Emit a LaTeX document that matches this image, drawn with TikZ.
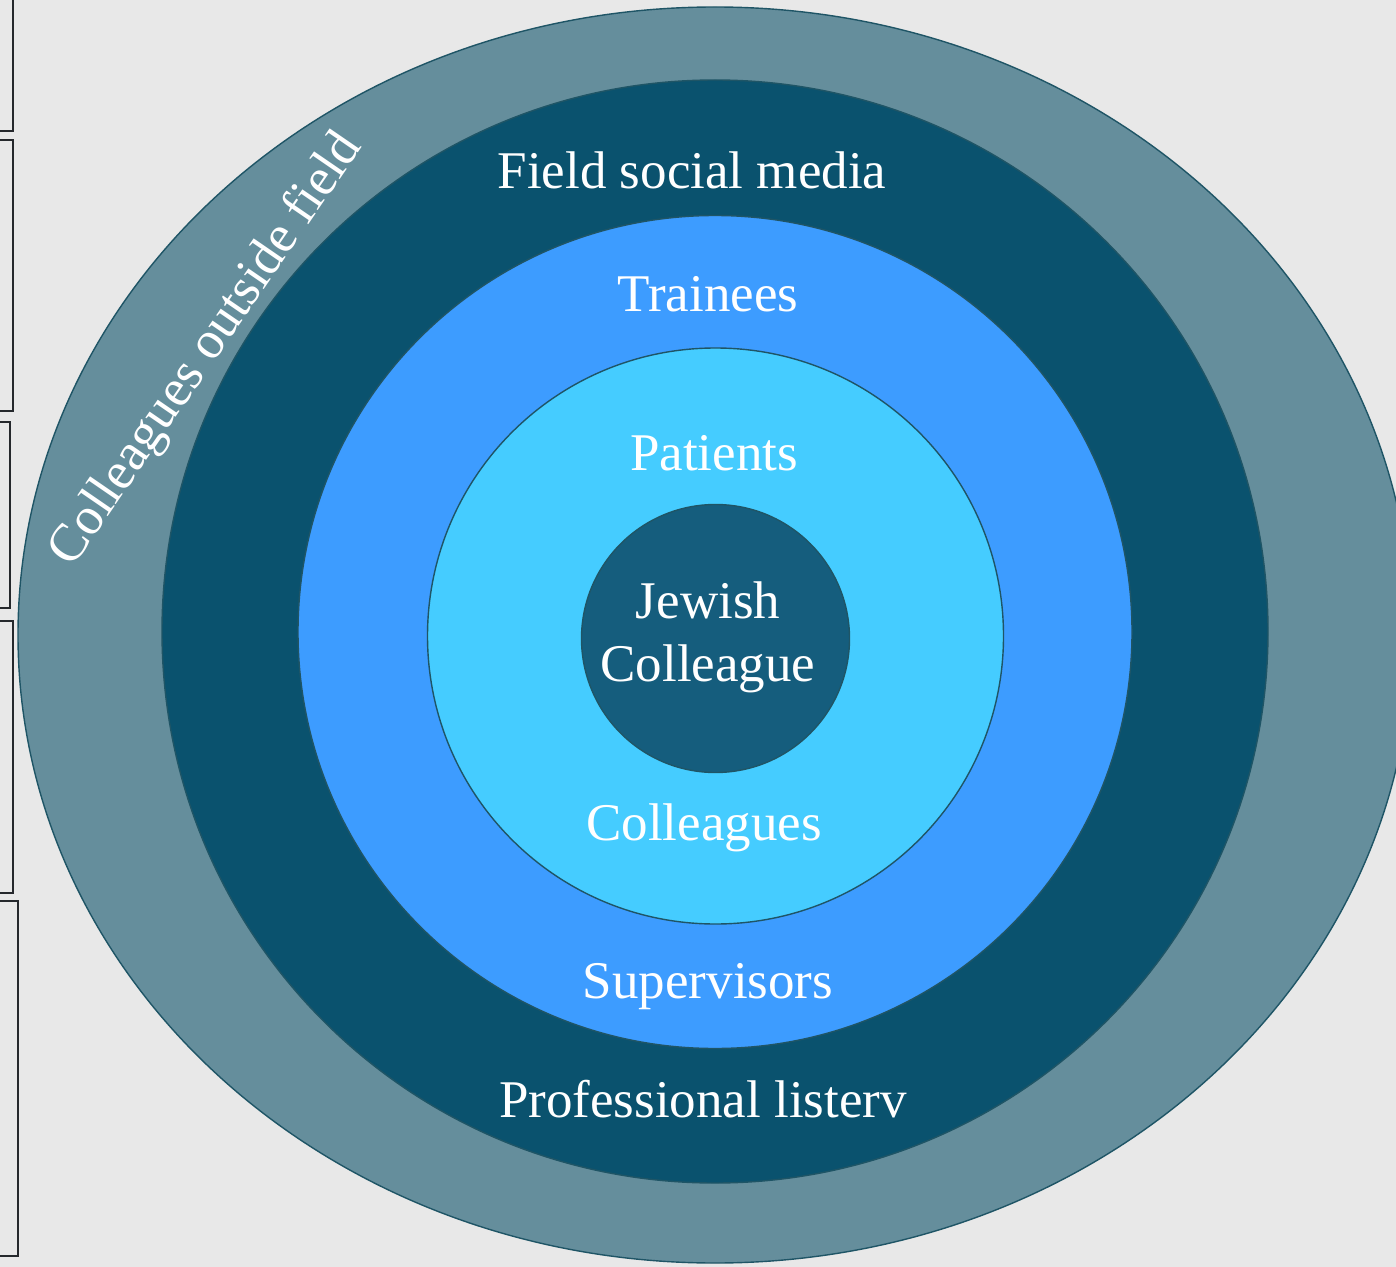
\documentclass[tikz,border=0pt]{standalone}
\usepackage{fontspec}
\setmainfont{Liberation Serif}
\definecolor{bgc}{HTML}{E8E8E8}
\definecolor{ringA}{HTML}{658E9C}
\definecolor{ringB}{HTML}{0A526E}
\definecolor{ringC}{HTML}{3D9CFF}
\definecolor{ringD}{HTML}{45CCFF}
\definecolor{ringE}{HTML}{155D7D}
\definecolor{edgec}{HTML}{1F5566}
\definecolor{boxc}{HTML}{25282C}
\begin{document}
\begin{tikzpicture}[x=0.5pt,y=-0.5pt,
  ring/.style={draw=edgec,line width=0.7pt},
  lbl/.style={text=white,inner sep=0pt,font=\fontsize{26.5}{31.5}\selectfont},
  sidebox/.style={draw=boxc,line width=1pt}]
\fill[bgc] (0,0) rectangle (1396,1267);
\useasboundingbox (0,0) rectangle (1396,1267);
% left boxes
\draw[sidebox] (-20,-20) rectangle (13,131);
\draw[sidebox] (-20,140) rectangle (13,411);
\draw[sidebox] (-20,422) rectangle (9.5,608);
\draw[sidebox] (-20,621) rectangle (12.5,893);
\draw[sidebox] (-20,901) rectangle (17.5,1256);
% rings
\draw[ring,fill=ringA] (715,635) ellipse [x radius=697, y radius=628];
\draw[ring,fill=ringB] (715,631.5) ellipse [x radius=553, y radius=551.5];
\draw[ring,fill=ringC] (715,632) ellipse [x radius=417, y radius=416.5];
\draw[ring,fill=ringD] (715.5,636) circle [radius=288];
\draw[ring,fill=ringE] (715.5,638.5) circle [radius=134];
% labels
\node[lbl,anchor=base] (fsm) at (692,189) {Field social media};
\node[lbl,anchor=base] (trn) at (708,312) {Trainees};
\node[lbl,anchor=base] (pat) at (714,470) {Patients};
\node[lbl,align=center,anchor=center] (jc) at (708,637) {Jewish\\Colleague};
\node[lbl,anchor=base] (col) at (704,840) {Colleagues};
\node[lbl,anchor=base] (sup) at (708,998) {Supervisors};
\node[lbl,anchor=base] (pro) at (703,1117) {Professional listerv};
\node[lbl,rotate=55.5,anchor=center] (cof) at (207,350) {Colleagues outside field};
\end{tikzpicture}
\end{document}
